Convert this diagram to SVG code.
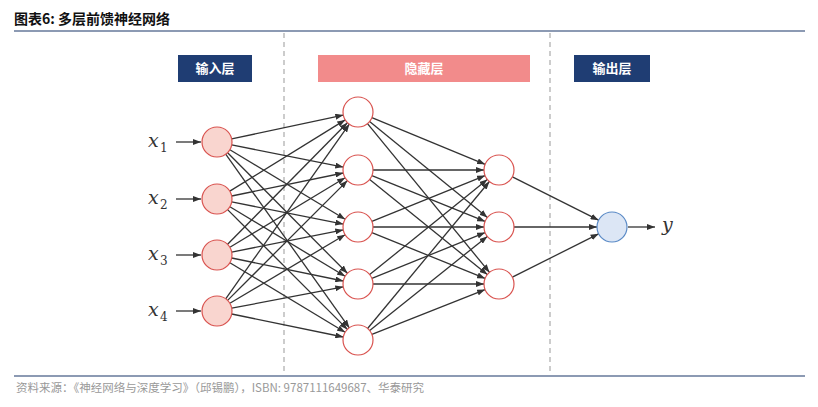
<svg xmlns="http://www.w3.org/2000/svg" width="818" height="407" viewBox="0 0 818 407">
<defs>
<marker id="a" markerWidth="8" markerHeight="6" refX="8" refY="3" orient="auto" markerUnits="userSpaceOnUse"><path d="M0,0 L8,3 L0,6 z" fill="#333"/></marker>
<style>
.e{stroke:#333;stroke-width:1.3;marker-end:url(#a);fill:none}
.in{fill:#f9d5cf;stroke:#d9534f;stroke-width:1.2}
.hd{fill:#fff;stroke:#d9534f;stroke-width:1.2}
.out{fill:#dce6f5;stroke:#5a8ac6;stroke-width:1.2}
.bt{font-family:"Noto Sans CJK SC",sans-serif;font-weight:bold;font-size:13px;fill:#fff;text-anchor:middle}
.m{font-family:"DejaVu Serif","Liberation Serif",serif;font-style:italic;font-size:19px;fill:#333}
.s{font-family:"DejaVu Serif",serif;font-size:12px;fill:#333}
</style>
</defs>
<rect width="818" height="407" fill="#fff"/>
<text x="14" y="24" font-family="Noto Sans CJK SC,sans-serif" font-weight="bold" font-size="14" fill="#111">图表6:  多层前馈神经网络</text>
<line x1="14" y1="31" x2="805" y2="31" stroke="#8c9ab3" stroke-width="2"/>
<line x1="14" y1="376" x2="805" y2="376" stroke="#8c9ab3" stroke-width="2"/>
<text x="16" y="392" font-family="Noto Sans CJK SC,sans-serif" font-size="11.5" fill="#999">资料来源：《神经网络与深度学习》（邱锡鹏），ISBN: 9787111649687、华泰研究</text>
<line x1="284" y1="33" x2="284" y2="372" stroke="#999" stroke-dasharray="5,4"/>
<line x1="550" y1="33" x2="550" y2="372" stroke="#999" stroke-dasharray="5,4"/>
<g id="label-input"><rect x="178" y="55" width="74" height="27" fill="#1f3d73"/><text class="bt" x="215" y="73">输入层</text></g>
<g id="label-hidden"><rect x="318" y="55" width="212" height="27" fill="#f28b8b"/><text class="bt" x="424" y="73">隐藏层</text></g>
<g id="label-output"><rect x="574" y="55" width="76" height="27" fill="#1f3d73"/><text class="bt" x="612" y="73">输出层</text></g>
<g id="connectors">
<line class="e" x1="176" y1="142" x2="201" y2="142"/>
<line class="e" x1="176" y1="199" x2="201" y2="199"/>
<line class="e" x1="176" y1="255" x2="201" y2="255"/>
<line class="e" x1="176" y1="311" x2="201" y2="311"/>
<line class="e" x1="231.7" y1="138.9" x2="343.3" y2="115.1"/>
<line class="e" x1="231.7" y1="144.9" x2="343.3" y2="167.1"/>
<line class="e" x1="229.9" y1="149.7" x2="345.1" y2="219.3"/>
<line class="e" x1="227.6" y1="152.7" x2="347.4" y2="273.3"/>
<line class="e" x1="225.7" y1="154.2" x2="349.3" y2="327.8"/>
<line class="e" x1="229.8" y1="191.1" x2="345.2" y2="119.9"/>
<line class="e" x1="231.7" y1="196" x2="343.3" y2="173"/>
<line class="e" x1="231.7" y1="201.9" x2="343.3" y2="224.1"/>
<line class="e" x1="229.9" y1="206.7" x2="345.1" y2="276.3"/>
<line class="e" x1="227.6" y1="209.6" x2="347.4" y2="329.4"/>
<line class="e" x1="227.6" y1="244.3" x2="347.4" y2="122.7"/>
<line class="e" x1="229.9" y1="247.3" x2="345.1" y2="177.7"/>
<line class="e" x1="231.7" y1="252.1" x2="343.3" y2="229.9"/>
<line class="e" x1="231.7" y1="258" x2="343.3" y2="281"/>
<line class="e" x1="229.9" y1="262.7" x2="345.1" y2="332.3"/>
<line class="e" x1="225.7" y1="298.8" x2="349.3" y2="124.2"/>
<line class="e" x1="227.6" y1="300.4" x2="347.4" y2="180.6"/>
<line class="e" x1="229.9" y1="303.3" x2="345.1" y2="234.7"/>
<line class="e" x1="231.7" y1="308.2" x2="343.3" y2="286.8"/>
<line class="e" x1="231.7" y1="314" x2="343.3" y2="337"/>
<line class="e" x1="371.9" y1="117.7" x2="485.1" y2="164.3"/>
<line class="e" x1="369.6" y1="121.5" x2="487.4" y2="217.5"/>
<line class="e" x1="367.5" y1="123.6" x2="489.5" y2="272.4"/>
<line class="e" x1="373" y1="170" x2="484" y2="170"/>
<line class="e" x1="371.9" y1="175.6" x2="485.1" y2="221.4"/>
<line class="e" x1="369.7" y1="179.4" x2="487.3" y2="274.6"/>
<line class="e" x1="371.9" y1="221.4" x2="485.1" y2="175.6"/>
<line class="e" x1="373" y1="227" x2="484" y2="227"/>
<line class="e" x1="371.9" y1="232.6" x2="485.1" y2="278.4"/>
<line class="e" x1="369.7" y1="274.6" x2="487.3" y2="179.4"/>
<line class="e" x1="371.9" y1="278.4" x2="485.1" y2="232.6"/>
<line class="e" x1="373" y1="284" x2="484" y2="284"/>
<line class="e" x1="367.6" y1="328.5" x2="489.4" y2="181.5"/>
<line class="e" x1="369.7" y1="330.6" x2="487.3" y2="236.4"/>
<line class="e" x1="371.9" y1="334.4" x2="485.1" y2="289.6"/>
<line class="e" x1="512.4" y1="176.8" x2="598.6" y2="220.2"/>
<line class="e" x1="514" y1="227" x2="597" y2="227"/>
<line class="e" x1="512.4" y1="277.2" x2="598.6" y2="233.8"/>
<line class="e" x1="628" y1="227" x2="655" y2="227"/>
</g>
<g id="inputs">
<g id="x1"><text class="m" x="148" y="147">x</text><text class="s" x="160" y="152">1</text><circle class="in" cx="217" cy="142" r="15"/></g>
<g id="x2"><text class="m" x="148" y="204">x</text><text class="s" x="160" y="209">2</text><circle class="in" cx="217" cy="199" r="15"/></g>
<g id="x3"><text class="m" x="148" y="260">x</text><text class="s" x="160" y="265">3</text><circle class="in" cx="217" cy="255" r="15"/></g>
<g id="x4"><text class="m" x="148" y="316">x</text><text class="s" x="160" y="321">4</text><circle class="in" cx="217" cy="311" r="15"/></g>
</g>
<g id="hidden1">
<circle class="hd" cx="358" cy="112" r="15"/><circle class="hd" cx="358" cy="170" r="15"/><circle class="hd" cx="358" cy="227" r="15"/><circle class="hd" cx="358" cy="284" r="15"/><circle class="hd" cx="358" cy="340" r="15"/>
</g>
<g id="hidden2">
<circle class="hd" cx="499" cy="170" r="15"/><circle class="hd" cx="499" cy="227" r="15"/><circle class="hd" cx="499" cy="284" r="15"/>
</g>
<g id="output"><circle class="out" cx="612" cy="227" r="15"/><text class="m" x="662" y="231">y</text></g>
</svg>
